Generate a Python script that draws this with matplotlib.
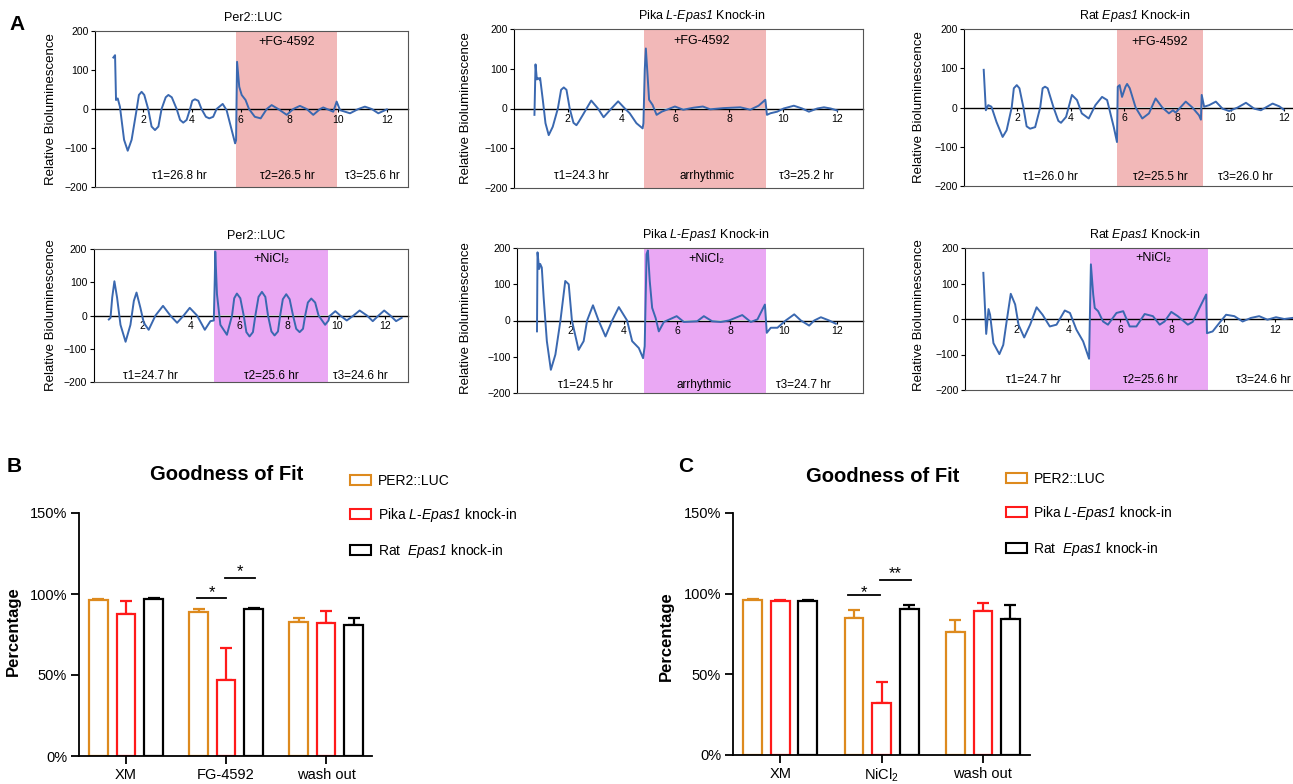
import matplotlib
matplotlib.use('Agg')
import matplotlib.pyplot as plt
from matplotlib.patches import Patch
import numpy as np

plt.rcParams['font.family'] = ['Liberation Sans', 'DejaVu Sans']
plt.rcParams['mathtext.fontset'] = 'custom'
plt.rcParams['mathtext.rm'] = 'Liberation Sans'
plt.rcParams['mathtext.it'] = 'Liberation Sans:italic'
plt.rcParams['mathtext.sf'] = 'Liberation Sans:italic'
plt.rcParams['mathtext.bf'] = 'Liberation Sans:bold'

# ---------------- Panel A data (days, relative bioluminescence) ----------------
per2_fg_t = [0.77,0.84,0.88,0.95,1.04,1.21,1.36,1.52,1.73,1.82,1.93,2.04,2.2,2.34,2.48,2.62,2.75,2.92,3.03,3.17,
             3.37,3.51,3.64,3.78,3.92,4.01,4.12,4.26,4.39,4.57,4.71,4.87,5.01,5.26,5.42,5.77,5.81,5.85,5.94,6.04,
             6.2,6.34,6.58,6.82,7.07,7.27,7.54,7.89,8.16,8.43,8.71,8.98,9.26,9.39,9.8,9.94,10.08,10.49,10.83,11.1,
             11.38,11.65,12.0]
per2_fg_y = [132,138,23,27,6,-79,-107,-79,0,36,44,36,0,-45,-54,-45,0,30,36,30,
             0,-28,-35,-28,0,21,25,21,0,-20,-24,-20,0,13,-3,-88,-80,121,57,36,
             23,0,-20,-24,0,10,0,-15,0,8,0,-15,0,4,-7,19,-3,-11,0,6,
             0,-11,-1]

pika_fg_t = [0.76,0.80,0.85,0.88,0.95,0.97,1.07,1.17,1.29,1.44,1.63,1.75,1.85,1.95,2.07,2.21,2.32,2.41,2.56,2.87,
             3.12,3.33,3.62,3.87,4.12,4.3,4.55,4.78,4.81,4.86,4.9,4.95,5.02,5.15,5.3,5.49,5.98,6.29,6.67,7.02,
             7.29,7.79,8.41,8.78,9.09,9.34,9.4,9.53,9.78,10.02,10.4,10.71,10.96,11.27,11.52,11.77,12.01]
pika_fg_y = [-16,111,73,77,73,77,22,-37,-67,-46,0,47,53,47,0,-36,-42,-33,-16,20,
             0,-22,0,18,0,-12,-37,-50,-37,98,151,98,22,9,-16,-8,5,-3,2,5,
             -2,1,3,-3,7,22,-16,-12,-8,0,7,0,-8,0,3,0,-5]

rat_fg_t = [0.74,0.82,0.91,1.03,1.22,1.45,1.6,1.79,1.87,1.98,2.08,2.23,2.35,2.48,2.67,2.86,2.95,3.04,3.14,3.36,
            3.54,3.64,3.83,4.05,4.24,4.42,4.68,4.93,5.18,5.37,5.62,5.74,5.77,5.84,5.93,6.06,6.12,6.22,6.44,6.69,
            6.94,7.19,7.44,7.69,7.84,7.94,8.32,8.57,8.82,8.89,8.92,9.01,9.2,9.45,9.7,9.95,10.27,10.58,10.89,11.14,
            11.58,11.83,11.99]
rat_fg_y = [96,-7,6,2,-37,-75,-58,0,49,57,49,0,-48,-54,-50,0,49,53,49,0,
            -34,-39,-24,32,19,-15,-28,6,27,19,-50,-88,53,57,27,53,60,49,0,-28,
            -15,23,0,-15,-7,-13,15,0,-20,-31,32,2,6,15,-3,-9,0,12,-3,-7,
            10,3,-5]

per2_ni_t = [0.63,0.7,0.77,0.86,0.97,1.11,1.32,1.52,1.66,1.77,1.93,2.07,2.27,2.55,2.86,3.16,3.44,3.71,3.96,4.26,
             4.58,4.81,4.95,4.99,5.01,5.08,5.22,5.49,5.7,5.79,5.9,6.04,6.18,6.29,6.42,6.56,6.66,6.79,6.93,7.07,
             7.18,7.32,7.45,7.59,7.68,7.79,7.93,8.07,8.21,8.34,8.48,8.62,8.71,8.82,8.96,9.12,9.26,9.53,9.67,9.71,
             9.95,10.15,10.42,10.7,10.95,11.25,11.49,11.73,11.96,12.21,12.45,12.68]
per2_ni_y = [-12,-7,54,103,54,-28,-79,-28,44,69,23,-22,-43,0,29,0,-22,0,23,0,
             -43,-17,-15,110,192,64,-28,-58,0,52,66,52,0,-50,-63,-50,0,56,71,56,
             0,-48,-60,-48,0,49,64,49,0,-40,-50,-40,0,39,51,39,0,-28,-15,-2,
             13,0,-15,0,15,0,-17,0,15,0,-17,-7]

pika_ni_t = [0.75,0.77,0.83,0.87,0.93,1.0,1.12,1.27,1.44,1.63,1.81,1.94,2.06,2.31,2.5,2.63,2.85,3.06,3.32,3.57,
             3.82,4.13,4.32,4.57,4.73,4.79,4.86,4.91,4.98,5.07,5.2,5.32,5.51,5.99,6.26,6.76,7.01,7.32,7.64,7.95,
             8.45,8.77,9.02,9.3,9.37,9.52,9.77,10.08,10.4,10.65,10.96,11.15,11.4,11.71,11.96]
pika_ni_y = [-30,188,142,156,146,63,-57,-136,-94,0,109,100,0,-81,-57,0,42,0,-44,0,
             37,0,-57,-76,-104,-71,183,193,109,35,7,-30,-4,12,-4,-2,12,-2,-4,0,
             15,-4,3,44,-34,-20,-20,0,17,0,-14,0,9,0,-9]

rat_ni_t = [0.71,0.82,0.91,0.97,1.1,1.33,1.48,1.61,1.77,1.94,2.07,2.29,2.52,2.77,3.0,3.28,3.54,3.86,4.06,4.31,
            4.57,4.8,4.87,4.96,5.02,5.15,5.34,5.53,5.86,6.12,6.37,6.63,6.95,7.27,7.53,7.72,7.98,8.23,8.62,8.81,
            9.07,9.33,9.36,9.58,9.84,10.1,10.42,10.74,11.06,11.38,11.7,12.03,12.35,12.67]
rat_ni_y = [130,-42,28,12,-68,-99,-73,-7,71,41,-16,-52,-16,33,12,-21,-16,24,17,-30,
            -63,-112,154,69,31,22,-7,-16,17,22,-21,-21,14,8,-16,-7,20,8,-16,-8,
            31,69,-40,-35,-11,12,8,-7,3,8,-2,5,0,3]

day_ticks = [2, 4, 6, 8, 10, 12]
biolum_ticks = [-200, -100, 0, 100, 200]

# ---------------- Panels B/C data (Goodness of Fit, %) ----------------
genotypes = ['PER2::LUC', r'Pika $\mathsf{L}$-$\mathsf{Epas1}$ knock-in', r'Rat  $\mathsf{Epas1}$ knock-in']
groups_B = ['XM', 'FG-4592', 'wash out']
groups_C = ['XM', r'NiCl$_2$', 'wash out']
B_per2 = [96.3, 88.9, 82.9]; B_per2_err = [0.7, 2.0, 2.5]
B_pika = [87.7, 47.1, 82.3]; B_pika_err = [8.0, 19.6, 7.2]
B_rat = [96.7, 90.9, 81.1];  B_rat_err = [0.6, 0.5, 4.3]
C_per2 = [95.8, 84.9, 76.4]; C_per2_err = [1.1, 5.1, 7.5]
C_pika = [95.2, 32.3, 89.4]; C_pika_err = [1.1, 13.2, 4.6]
C_rat = [95.7, 90.5, 84.0];  C_rat_err = [0.3, 2.7, 8.7]
pct_ticks = [0, 50, 100, 150]

TRACE = '#3a68b0'
PINK = '#f2b8b8'
LILAC = '#eaa8f4'
BAR_COLORS = ['#dd8a1e', '#ff1a1a', '#000000']

W, H = 1293, 784
fig = plt.figure(figsize=(W / 100, H / 100), dpi=100)


def rect(left, top, right, bottom):
    return [left / W, 1 - bottom / H, (right - left) / W, (bottom - top) / H]


def trace_panel(r, xmax, t, y, span, scol, title, title_x, slabel, slabel_x, slabel_y,
                taus, tau_y, ylab_xy):
    ax = fig.add_axes(r)
    ax.set_xlim(0, xmax)
    ax.set_ylim(-200, 200)
    ax.axvspan(span[0], span[1], color=scol, lw=0, zorder=0)
    ax.plot(t, y, color=TRACE, lw=1.4, zorder=3, solid_joinstyle='round')
    ax.set_xticks([])
    ax.set_yticks(biolum_ticks)
    ax.tick_params(axis='y', labelsize=7.5, length=3, width=0.8, pad=1.5, direction='out')
    for s in ax.spines.values():
        s.set_color('#555555')
        s.set_linewidth(0.8)
    ax.spines['left'].set_color('black')
    sec = ax.secondary_xaxis(0.5)
    sec.set_alignment('bottom')
    sec.set_xticks(day_ticks)
    sec.tick_params(labelsize=7.5, length=2, width=0.8, pad=2)
    sec.spines['bottom'].set_linewidth(1.0)
    ax.set_ylabel('Relative Bioluminescence', fontsize=9.5)
    ax.yaxis.set_label_coords(*ylab_xy)
    ax.annotate(title, xy=(title_x, 1), xycoords=('data', 'axes fraction'),
                xytext=(0, 9.4), textcoords='offset points', ha='center', va='center',
                fontsize=9, annotation_clip=False)
    ax.text(slabel_x, slabel_y, slabel, ha='center', va='center', fontsize=9)
    for (tx, lab) in taus:
        ax.text(tx, tau_y, lab, ha='center', va='center', fontsize=8.5, clip_on=False)
    return ax


trace_panel(rect(94.6, 31, 408, 187), 12.87, per2_fg_t, per2_fg_y, (5.8, 9.95), PINK,
            'Per2::LUC', 6.5, '+FG-4592', 7.9, 173,
            [(3.47, 'τ1=26.8 hr'), (7.9, 'τ2=26.5 hr'), (11.4, 'τ3=25.6 hr')], -171, (-0.12, 0.5))
trace_panel(rect(514, 29, 863, 188), 12.97, pika_fg_t, pika_fg_y, (4.83, 9.37), PINK,
            r'Pika $\mathsf{L}$-$\mathsf{Epas1}$ Knock-in', 6.98, '+FG-4592', 6.98, 170,
            [(2.52, 'τ1=24.3 hr'), (7.17, 'arrhythmic'), (10.88, 'τ3=25.2 hr')], -170, (-0.121, 0.5))
trace_panel(rect(964, 29, 964 + 13 * 26.65, 186), 13, rat_fg_t, rat_fg_y, (5.74, 8.97), PINK,
            r'Rat $\mathsf{Epas1}$ Knock-in', 6.42, '+FG-4592', 7.35, 168,
            [(3.23, 'τ1=26.0 hr'), (7.35, 'τ2=25.5 hr'), (10.54, 'τ3=26.0 hr')], -176, (-0.1125, 0.5))
trace_panel(rect(93.5, 249, 408, 382), 12.94, per2_ni_t, per2_ni_y, (4.96, 9.65), LILAC,
            'Per2::LUC', 6.69, '+NiCl₂', 7.33, 171,
            [(2.33, 'τ1=24.7 hr'), (7.33, 'τ2=25.6 hr'), (10.97, 'τ3=24.6 hr')], -181, (-0.117, 0.5))
trace_panel(rect(517, 248, 863, 393), 12.98, pika_ni_t, pika_ni_y, (4.77, 9.35), LILAC,
            r'Pika $\mathsf{L}$-$\mathsf{Epas1}$ Knock-in', 7.09, '+NiCl₂', 7.12, 169,
            [(2.55, 'τ1=24.5 hr'), (7.02, 'arrhythmic'), (10.73, 'τ3=24.7 hr')], -178, (-0.131, 0.52))
trace_panel(rect(965, 248, 965 + 13 * 25.85, 390), 13, rat_ni_t, rat_ni_y, (4.84, 9.4), LILAC,
            r'Rat $\mathsf{Epas1}$ Knock-in', 6.96, '+NiCl₂', 7.27, 173,
            [(2.63, 'τ1=24.7 hr'), (7.16, 'τ2=25.6 hr'), (11.53, 'τ3=24.6 hr')], -172, (-0.119, 0.53))


def bar_panel(r, xlim, offset, groups, means, errs, sig, title_xy, legend_xy, ylab_xy):
    ax = fig.add_axes(r)
    x = np.arange(len(groups))
    for i, (m, e, c) in enumerate(zip(means, errs, BAR_COLORS)):
        xi = x + (i - 1) * offset
        ax.bar(xi, m, width=0.185, facecolor='white', edgecolor=c, linewidth=1.6, zorder=2)
        ax.errorbar(xi, m, yerr=[np.zeros(len(m)), e], fmt='none', ecolor=c,
                    elinewidth=1.6, capsize=4.3, capthick=1.6, zorder=1)
    ax.set_xlim(*xlim)
    ax.set_ylim(0, 150)
    ax.set_yticks(pct_ticks)
    ax.set_yticklabels([f'{v}%' for v in pct_ticks], fontsize=10.5)
    ax.set_xticks(x)
    ax.set_xticklabels(groups, fontsize=10.5)
    ax.tick_params(length=5.5, width=1.3, pad=3)
    for s in ['top', 'right']:
        ax.spines[s].set_visible(False)
    for s in ['left', 'bottom']:
        ax.spines[s].set_linewidth(1.3)
    ax.set_ylabel('Percentage', fontsize=12, fontweight='bold')
    ax.yaxis.set_label_coords(*ylab_xy)
    for (x0, x1, yv, star, sy) in sig:
        ax.plot([x0, x1], [yv, yv], color='black', lw=1.3, clip_on=False)
        ax.text((x0 + x1) / 2, sy, star, ha='center', va='baseline', fontsize=12, clip_on=False)
    fig.text(title_xy[0] / W, 1 - title_xy[1] / H, 'Goodness of Fit', ha='center', va='center',
             fontsize=14.5, fontweight='bold')
    handles = [Patch(facecolor='white', edgecolor=c, linewidth=1.5) for c in BAR_COLORS]
    ax.legend(handles, genotypes, loc='upper left', bbox_to_anchor=(legend_xy[0] / W, 1 - legend_xy[1] / H),
              bbox_transform=fig.transFigure, frameon=False, prop={'size': 10},
              handlelength=1.5, handleheight=0.72, handletextpad=0.5, labelspacing=1.3,
              borderpad=0, borderaxespad=0)
    return ax


bar_panel(rect(79, 513, 372, 756), (-0.47, 2.46), 0.275, groups_B,
          [B_per2, B_pika, B_rat], [B_per2_err, B_pika_err, B_rat_err],
          [(0.71, 1.0, 97.5, '*', 98.2), (0.99, 1.29, 109.9, '*', 111.0)],
          (227, 475), (350, 474), (-0.198, 0.512))
bar_panel(rect(733, 513, 1030, 755), (-0.467, 2.465), 0.272, groups_C,
          [C_per2, C_pika, C_rat], [C_per2_err, C_pika_err, C_rat_err],
          [(0.668, 0.984, 98.9, '*', 97.8), (0.984, 1.29, 108.5, '**', 109.8)],
          (883, 477), (1005.7, 472), (-0.199, 0.49))

fig.text(17 / W, 1 - 24 / H, 'A', fontsize=15, fontweight='bold', ha='center', va='center')
fig.text(14 / W, 1 - 467 / H, 'B', fontsize=15, fontweight='bold', ha='center', va='center')
fig.text(686 / W, 1 - 467 / H, 'C', fontsize=15, fontweight='bold', ha='center', va='center')

fig.savefig('out.png', dpi=100)
